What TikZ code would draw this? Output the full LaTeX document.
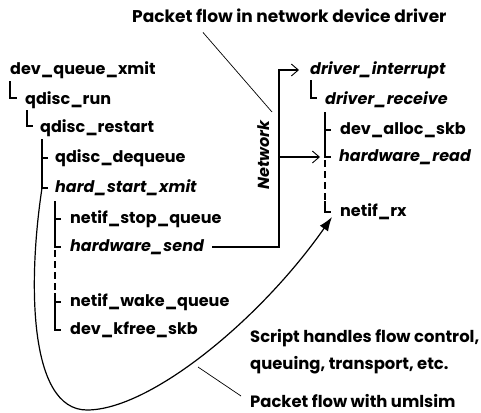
\documentclass[tikz,border=0pt]{standalone}
\usepackage{fontspec}
\setmainfont{Poppins}
\usetikzlibrary{arrows.meta,calc}
\begin{document}
\begin{tikzpicture}[x=1pt,y=-1pt,
  lbl/.style={inner sep=0pt,anchor=west,font=\fontsize{16}{18}\selectfont\bfseries,text height=11.5pt,text depth=3pt},
  ilbl/.style={lbl,font=\fontsize{16}{18}\selectfont\bfseries\itshape},
  note/.style={lbl,font=\fontsize{16.4}{18}\selectfont\bfseries},
  titlelbl/.style={lbl,font=\fontsize{17}{19}\selectfont\bfseries},
  tree/.style={line width=1.2pt},
  ptr/.style={line width=0.7pt},
  flow/.style={line width=1.2pt},
  openarrow/.style={-{Straight Barb[length=7pt,width=12pt,line width=0.9pt]}}
]
\useasboundingbox (0,0) rectangle (481,412);
% labels
\node[titlelbl] (title) at (132,18) {Packet flow in network device driver};
\node[lbl] (n1) at (10,70) {dev\_queue\_xmit};
\node[lbl] (n2) at (25,100) {qdisc\_run};
\node[lbl] (n3) at (40,128) {qdisc\_restart};
\node[lbl] (n4) at (55,158) {qdisc\_dequeue};
\node[ilbl] (n5) at (55,188) {hard\_start\_xmit};
\node[lbl] (n6) at (70,219) {netif\_stop\_queue};
\node[ilbl] (n7) at (70,247) {hardware\_send};
\node[lbl] (n8) at (70,302) {netif\_wake\_queue};
\node[lbl] (n9) at (70,330) {dev\_kfree\_skb};
\node[ilbl] (r1) at (310,70) {driver\_interrupt};
\node[ilbl] (r2) at (325,100) {driver\_receive};
\node[lbl] (r3) at (340,130) {dev\_alloc\_skb};
\node[ilbl] (r4) at (339,157) {hardware\_read};
\node[lbl] (r5) at (340,212) {netif\_rx};
\node[note] (s1) at (250,338) {Script handles flow control,};
\node[note] (s2) at (250,365) {queuing, transport, etc.};
\node[note] (s3) at (250,403) {Packet flow with umlsim};
\node[ilbl,rotate=90,anchor=center] (net) at (265,155) {Network};
% left tree
\draw[tree] ([xshift=0pt,yshift=-4pt]n1.south west) |- ([xshift=-8pt,yshift=2pt]n2.west);
\draw[tree] ([xshift=2pt,yshift=-3pt]n2.south west) |- ([xshift=-7pt,yshift=2pt]n3.west);
\coordinate (t3) at ([xshift=2pt,yshift=-4pt]n3.south west);
\draw[tree] (t3) |- ([xshift=-7pt]n4.west);
\draw[tree] (t3) |- ([xshift=-7pt]n5.west);
\coordinate (t5) at ([xshift=0pt,yshift=-6pt]n5.south west);
\draw[tree] (t5) |- ($(n6.west -| t5)+(6,0)$);
\draw[tree] (t5) |- ($(n7.west -| t5)+(6,0)$);
\coordinate (t8) at ($(n8.west -| t5)+(0,-9)$);
\draw[tree,dash pattern=on 7pt off 4pt] ($(n7.west -| t5)+(0,3)$) -- (t8);
\draw[tree] (t8) |- ($(n8.west -| t5)+(6,0)$);
\draw[tree] (t8) |- ($(n9.west -| t5)+(6,0)$);
% right tree
\draw[tree] ([xshift=1pt,yshift=-3pt]r1.south west) |- ([xshift=-8pt,yshift=2pt]r2.west);
\coordinate (u2) at ([xshift=0pt,yshift=-5pt]r2.south west);
\draw[tree] (u2) |- ($(r3.west -| u2)+(6,0)$);
\draw[tree] (u2) |- ($(r4.west -| u2)+(6,0)$);
\coordinate (u5) at ($(r5.west -| u2)+(0,-11)$);
\draw[tree,dash pattern=on 7pt off 4pt] ($(r4.west -| u2)+(0,3)$) -- (u5);
\draw[tree] (u5) |- ($(r5.west -| u2)+(6,0)$);
% network flow
\coordinate (nx) at (279,0);
\draw[flow,openarrow] ([xshift=8pt]n7.east) -| (r1.west -| nx) -- ([xshift=-11pt]r1.west);
\draw[flow,openarrow] (r4.west -| nx) -- ([xshift=-19pt]r4.west);
% umlsim flow
\draw[flow,-{Latex[length=14pt,width=10pt]}] (n5.west -| t3) .. controls (28,280) and (28,410) .. (87,410) .. controls (150,410) and (260,320) .. ([xshift=-8pt,yshift=-5pt]r5.west);
% pointers
\coordinate (p1) at (272,112);
\draw[ptr] ([xshift=71pt,yshift=-7pt]title.south west) -- (p1);
\coordinate (p2) at (198,367);
\draw[ptr] (p2) -- ([xshift=-9pt,yshift=7pt]s3.west);
\end{tikzpicture}
\end{document}
